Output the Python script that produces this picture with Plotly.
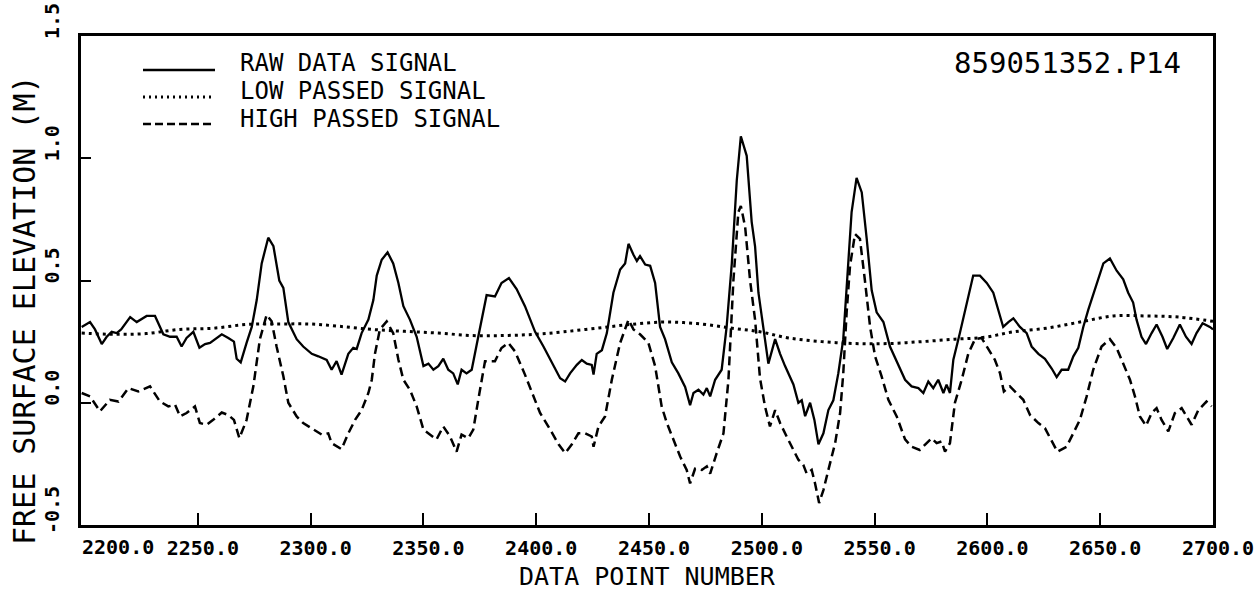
import plotly.graph_objects as go

# ---------------- data ----------------
raw_x = [2198.5, 2202.2, 2204.4, 2207.4, 2209.6, 2211.8, 2214.0, 2216.0, 2220.0, 2222.9,
         2227.3, 2231.0, 2234.7, 2237.7, 2240.6, 2242.8, 2245.0, 2248.0, 2250.7, 2253.2,
         2255.4, 2258.3, 2260.6, 2263.5, 2266.0, 2267.2, 2269.0, 2271.6, 2273.9, 2276.1,
         2278.3, 2281.2, 2283.5, 2286.1, 2287.9, 2290.1, 2293.8, 2296.7, 2300.5, 2303.4,
         2307.1, 2309.3, 2311.5, 2313.7, 2316.7, 2318.9, 2320.4, 2322.6, 2325.6, 2327.8,
         2329.3, 2331.5, 2334.1, 2336.6, 2338.9, 2341.1, 2344.0, 2347.0, 2350.0, 2352.2,
         2354.4, 2356.6, 2358.8, 2361.0, 2363.2, 2365.2, 2366.9, 2369.1, 2371.4, 2374.3,
         2378.0, 2381.7, 2384.6, 2387.9, 2391.3, 2395.0, 2397.3, 2399.5, 2403.2, 2407.6,
         2410.6, 2412.8, 2415.0, 2418.0, 2420.2, 2422.4, 2424.6, 2425.4, 2426.8, 2429.1,
         2431.3, 2434.2, 2437.2, 2439.4, 2440.9, 2443.1, 2444.6, 2446.0, 2448.3, 2450.5,
         2452.7, 2454.9, 2457.1, 2460.1, 2463.0, 2466.0, 2468.2, 2469.7, 2471.9, 2474.1,
         2475.6, 2477.1, 2479.3, 2482.2, 2484.4, 2486.7, 2488.9, 2490.7, 2493.3, 2495.5,
         2497.0, 2498.5, 2500.7, 2502.9, 2505.9, 2508.1, 2510.3, 2511.8, 2514.0, 2516.2,
         2517.7, 2519.2, 2521.4, 2523.3, 2525.1, 2527.3, 2529.5, 2531.7, 2533.9, 2536.1,
         2537.6, 2539.8, 2542.0, 2544.3, 2546.5, 2548.7, 2550.9, 2553.9, 2556.8, 2559.8,
         2563.5, 2566.4, 2569.4, 2571.6, 2573.8, 2576.0, 2578.2, 2580.5, 2581.9, 2583.4,
         2584.9, 2587.8, 2590.8, 2593.7, 2596.7, 2599.7, 2602.6, 2604.8, 2607.0, 2609.3,
         2611.5, 2614.4, 2617.4, 2619.6, 2622.6, 2625.5, 2628.5, 2630.7, 2632.9, 2635.8,
         2638.1, 2640.3, 2642.5, 2644.7, 2647.7, 2651.4, 2654.3, 2657.3, 2660.2, 2662.4,
         2664.6, 2666.1, 2668.3, 2670.3, 2672.8, 2675.0, 2677.6, 2679.7, 2682.4, 2685.3,
         2688.0, 2690.5, 2692.7, 2695.4, 2698.6, 2700.0]
raw_y = [0.31, 0.33, 0.30, 0.24, 0.27, 0.29, 0.285, 0.30, 0.35, 0.33,
         0.355, 0.355, 0.28, 0.27, 0.27, 0.23, 0.265, 0.29, 0.225, 0.24,
         0.245, 0.265, 0.28, 0.265, 0.25, 0.18, 0.165, 0.245, 0.31, 0.42,
         0.57, 0.675, 0.64, 0.50, 0.47, 0.33, 0.26, 0.23, 0.20, 0.19,
         0.175, 0.135, 0.17, 0.115, 0.20, 0.225, 0.22, 0.285, 0.34, 0.42,
         0.52, 0.585, 0.615, 0.57, 0.49, 0.395, 0.34, 0.27, 0.15, 0.16,
         0.135, 0.15, 0.18, 0.135, 0.12, 0.075, 0.135, 0.12, 0.135, 0.27,
         0.44, 0.435, 0.49, 0.51, 0.465, 0.395, 0.34, 0.29, 0.23, 0.15,
         0.10, 0.087, 0.12, 0.155, 0.175, 0.16, 0.155, 0.115, 0.20, 0.215,
         0.285, 0.45, 0.545, 0.57, 0.65, 0.605, 0.58, 0.60, 0.565, 0.56,
         0.49, 0.31, 0.26, 0.165, 0.12, 0.065, -0.01, 0.04, 0.053, 0.033,
         0.06, 0.026, 0.094, 0.135, 0.31, 0.57, 0.91, 1.09, 1.01, 0.74,
         0.64, 0.45, 0.31, 0.16, 0.26, 0.20, 0.15, 0.12, 0.075, 0.0,
         0.01, -0.055, 0.0, -0.07, -0.17, -0.125, -0.03, 0.01, 0.12, 0.26,
         0.48, 0.78, 0.92, 0.86, 0.67, 0.46, 0.37, 0.33, 0.23, 0.17,
         0.094, 0.067, 0.06, 0.04, 0.087, 0.06, 0.094, 0.04, 0.074, 0.04,
         0.176, 0.285, 0.41, 0.52, 0.52, 0.49, 0.45, 0.38, 0.31, 0.33,
         0.345, 0.31, 0.285, 0.23, 0.20, 0.18, 0.14, 0.105, 0.135, 0.135,
         0.19, 0.225, 0.31, 0.38, 0.465, 0.57, 0.59, 0.54, 0.505, 0.45,
         0.41, 0.34, 0.27, 0.24, 0.285, 0.32, 0.27, 0.22, 0.265, 0.32,
         0.27, 0.24, 0.285, 0.325, 0.31, 0.30]

low_x = [2198.5, 2212.6, 2227.0, 2242.0, 2257.0, 2271.6, 2286.4, 2299.7, 2312.3, 2327.0,
         2341.8, 2356.6, 2371.4, 2386.0, 2399.4, 2412.0, 2426.8, 2441.6, 2456.4, 2471.2,
         2485.9, 2499.2, 2511.8, 2526.5, 2541.3, 2556.0, 2570.9, 2585.6, 2598.9, 2611.5,
         2626.2, 2641.0, 2655.8, 2670.6, 2685.3, 2700.0]
low_y = [0.285, 0.28, 0.283, 0.30, 0.305, 0.32, 0.322, 0.322, 0.313, 0.30,
         0.292, 0.285, 0.275, 0.275, 0.28, 0.29, 0.305, 0.32, 0.33, 0.324,
         0.306, 0.29, 0.265, 0.25, 0.242, 0.242, 0.25, 0.26, 0.268, 0.29,
         0.305, 0.33, 0.355, 0.355, 0.35, 0.333]

high_x = [2198.5, 2202.2, 2206.6, 2211.0, 2214.8, 2219.2, 2223.6, 2228.8, 2233.2, 2236.9,
          2239.9, 2242.1, 2245.0, 2248.7, 2250.9, 2253.9, 2256.8, 2260.6, 2263.5, 2266.0,
          2268.4, 2271.6, 2274.6, 2277.5, 2280.5, 2282.7, 2284.9, 2287.9, 2290.1, 2293.8,
          2296.7, 2299.7, 2301.2, 2304.9, 2307.8, 2309.3, 2313.7, 2316.7, 2319.7, 2322.6,
          2325.6, 2327.1, 2328.5, 2330.7, 2333.7, 2336.6, 2338.9, 2341.1, 2344.0, 2347.0,
          2350.0, 2353.0, 2355.8, 2358.8, 2361.8, 2364.7, 2366.9, 2369.9, 2372.1, 2374.3,
          2377.3, 2381.7, 2384.6, 2387.6, 2390.6, 2395.0, 2397.3, 2401.7, 2406.2, 2409.9,
          2412.8, 2415.8, 2418.7, 2421.7, 2424.6, 2425.4, 2427.6, 2430.5, 2433.5, 2437.2,
          2440.9, 2443.1, 2446.0, 2449.7, 2452.7, 2455.6, 2457.9, 2460.8, 2463.8, 2466.7,
          2468.2, 2470.4, 2473.4, 2475.6, 2477.1, 2480.0, 2483.0, 2485.2, 2487.4, 2489.6,
          2490.7, 2492.6, 2494.8, 2497.0, 2499.2, 2501.4, 2503.6, 2505.9, 2508.1, 2511.0,
          2513.2, 2516.2, 2518.4, 2519.9, 2522.1, 2523.6, 2525.4, 2527.3, 2529.5, 2532.5,
          2534.7, 2536.1, 2537.6, 2539.1, 2541.3, 2543.5, 2545.7, 2548.0, 2550.2, 2553.1,
          2556.1, 2559.8, 2563.5, 2566.4, 2570.0, 2573.1, 2575.3, 2577.5, 2579.7, 2581.2,
          2583.4, 2585.6, 2588.6, 2591.5, 2594.5, 2597.4, 2599.7, 2603.3, 2605.6, 2607.3,
          2610.0, 2613.0, 2615.9, 2618.9, 2622.6, 2625.5, 2628.5, 2631.0, 2635.1, 2638.1,
          2641.0, 2644.0, 2646.9, 2650.6, 2654.3, 2657.3, 2660.2, 2663.2, 2665.4, 2667.6,
          2670.3, 2672.8, 2675.0, 2677.2, 2680.2, 2683.1, 2686.1, 2688.3, 2690.5, 2693.5,
          2697.1, 2699.4]
high_y = [0.04, 0.026, -0.035, 0.012, 0.005, 0.06, 0.046, 0.067, 0.005, -0.015,
          -0.008, -0.056, -0.042, -0.015, -0.083, -0.09, -0.07, -0.04, -0.05, -0.07,
          -0.145, -0.07, 0.067, 0.26, 0.36, 0.333, 0.23, 0.108, 0.0, -0.056,
          -0.083, -0.10, -0.11, -0.13, -0.125, -0.165, -0.19, -0.125, -0.07, -0.03,
          0.04, 0.094, 0.20, 0.30, 0.333, 0.285, 0.176, 0.094, 0.053, -0.015,
          -0.11, -0.13, -0.15, -0.097, -0.138, -0.20, -0.13, -0.145, -0.11, 0.012,
          0.17, 0.17, 0.224, 0.245, 0.21, 0.115, 0.06, -0.042, -0.11, -0.17,
          -0.206, -0.17, -0.125, -0.125, -0.138, -0.18, -0.097, -0.056, 0.094, 0.245,
          0.34, 0.30, 0.28, 0.245, 0.15, -0.015, -0.083, -0.15, -0.22, -0.275,
          -0.33, -0.27, -0.275, -0.26, -0.29, -0.206, -0.125, 0.094, 0.50, 0.78,
          0.805, 0.72, 0.50, 0.34, 0.10, -0.015, -0.097, -0.03, -0.083, -0.138,
          -0.18, -0.233, -0.254, -0.29, -0.275, -0.33, -0.41, -0.357, -0.275, -0.165,
          -0.042, 0.12, 0.37, 0.56, 0.69, 0.67, 0.50, 0.31, 0.19, 0.108,
          0.012, -0.056, -0.15, -0.18, -0.193, -0.165, -0.145, -0.165, -0.158, -0.20,
          -0.165, 0.0, 0.094, 0.20, 0.26, 0.265, 0.23, 0.176, 0.12, 0.046,
          0.067, 0.04, 0.012, -0.05, -0.083, -0.104, -0.158, -0.20, -0.18, -0.125,
          -0.07, 0.026, 0.135, 0.23, 0.26, 0.224, 0.163, 0.094, 0.026, -0.056,
          -0.094, -0.042, -0.022, -0.07, -0.117, -0.042, -0.022, -0.056, -0.09, -0.03,
          0.005, -0.015]

x_tick_vals = [2250, 2300, 2350, 2400, 2450, 2500, 2550, 2600, 2650, 2700]
x_tick_text = ["2250.0", "2300.0", "2350.0", "2400.0", "2450.0", "2500.0",
               "2550.0", "2600.0", "2650.0", "2700.0"]
first_x_label = "2200.0"
y_tick_vals = [-0.5, 0.0, 0.5, 1.0, 1.5]
y_tick_text = ["-0.5", "0.0", "0.5", "1.0", "1.5"]
series_names = ["RAW DATA SIGNAL", "LOW PASSED SIGNAL", "HIGH PASSED SIGNAL"]
run_id = "859051352.P14"
x_title = "DATA POINT NUMBER"
y_title = "FREE SURFACE ELEVATION (M)"

# ---------------- figure ----------------
FONT = "DejaVu Sans Mono"
W, H = 1257, 591
L, R, T, B = 81, 44, 36, 66
pw, ph = W - L - R, H - T - B

def px_x(p):
    return (p - L) / pw

def px_y(p):
    return (H - B - p) / ph

raw_style = dict(color="black", width=2.3)
low_style = dict(color="black", width=3, dash="3px,4px")
high_style = dict(color="black", width=2.5, dash="9px,5px")

fig = go.Figure()
fig.add_trace(go.Scatter(x=raw_x, y=raw_y, mode="lines", name=series_names[0], line=raw_style))
fig.add_trace(go.Scatter(x=low_x, y=low_y, mode="lines", name=series_names[1],
                         line=low_style, line_shape="spline"))
fig.add_trace(go.Scatter(x=high_x, y=high_y, mode="lines", name=series_names[2], line=high_style))

# legend drawn as samples + labels
leg_rows = [70, 97, 124]
leg_text_rows = [63, 91, 119]
leg_styles = [dict(color="black", width=2.3),
              dict(color="black", width=3, dash="2px,4px"),
              dict(color="black", width=2.5, dash="8px,4px")]
for name, yr, yt, st in zip(series_names, leg_rows, leg_text_rows, leg_styles):
    fig.add_shape(type="line", xref="paper", yref="paper",
                  x0=px_x(143), x1=px_x(215), y0=px_y(yr), y1=px_y(yr), line=st)
    fig.add_annotation(text=name, xref="paper", yref="paper", x=px_x(238), y=px_y(yt),
                       xanchor="left", yanchor="middle", showarrow=False,
                       font=dict(family=FONT, size=24, color="black"))

fig.add_annotation(text=run_id, xref="paper", yref="paper", x=px_x(1183), y=px_y(63),
                   xanchor="right", yanchor="middle", showarrow=False,
                   font=dict(family=FONT, size=29, color="black"))

fig.add_annotation(text=first_x_label, xref="paper", yref="paper", x=px_x(118), y=px_y(547),
                   xanchor="center", yanchor="middle", showarrow=False,
                   font=dict(family=FONT, size=20, color="black", weight="bold"))

fig.add_annotation(text=x_title, xref="paper", yref="paper", x=px_x(647), y=px_y(576),
                   xanchor="center", yanchor="middle", showarrow=False,
                   font=dict(family=FONT, size=25, color="black"))
fig.add_annotation(text=y_title, xref="paper", yref="paper", x=px_x(24), y=px_y(310),
                   xanchor="center", yanchor="middle", showarrow=False, textangle=-90,
                   font=dict(family=FONT, size=30, color="black"))

fig.update_layout(
    width=W, height=H,
    margin=dict(l=L, r=R, t=T, b=B),
    paper_bgcolor="white", plot_bgcolor="white",
    showlegend=False,
    font=dict(family=FONT, color="black"),
)
fig.update_xaxes(
    range=[2198.2, 2700], showgrid=False, zeroline=False, automargin=False,
    showline=True, linecolor="black", linewidth=2.5, mirror=True,
    tickmode="array", tickvals=x_tick_vals, ticktext=x_tick_text,
    ticks="inside", ticklen=12, tickwidth=2, tickcolor="black",
    tickfont=dict(family=FONT, size=20, color="black", weight="bold"),
    ticklabelshift=5, ticklabelstandoff=3,
)
fig.update_yaxes(
    range=[-0.5, 1.5], showgrid=False, zeroline=False, automargin=False,
    showline=True, linecolor="black", linewidth=2.5, mirror=True,
    tickmode="array", tickvals=y_tick_vals, ticktext=y_tick_text,
    ticks="inside", ticklen=10, tickwidth=2, tickcolor="black",
    tickangle=-90,
    tickfont=dict(family=FONT, size=20, color="black", weight="bold"),
    ticklabelshift=-12, ticklabelstandoff=11,
)

fig.write_html("out.html")
